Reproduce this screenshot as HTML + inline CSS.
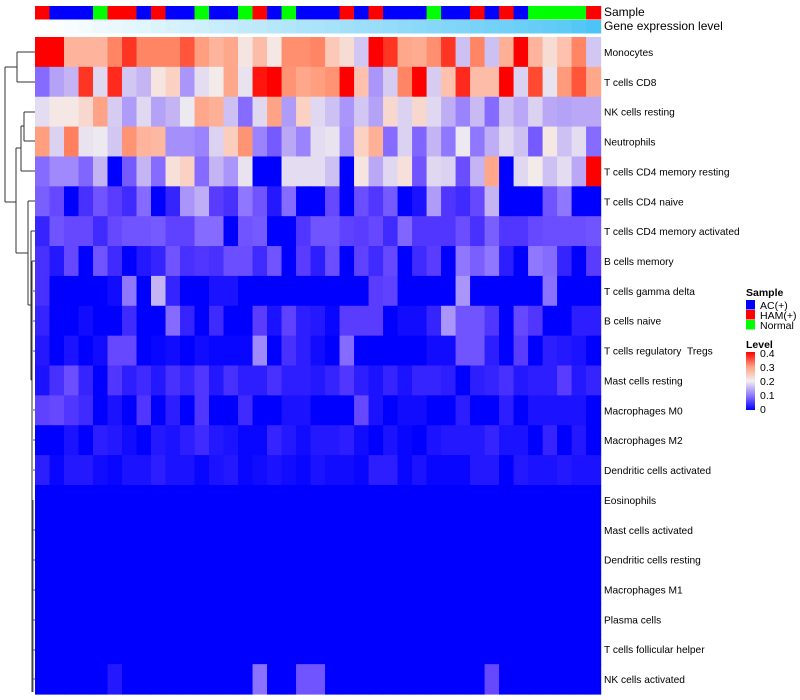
<!DOCTYPE html>
<html><head><meta charset="utf-8"><style>
body{margin:0;background:#fff;}
svg{display:block;font-family:"Liberation Sans",sans-serif;}
</style></head><body>
<svg id="chart" width="800" height="700">
<g id="dendro" stroke="#333" stroke-width="1" fill="none">
<path d="M5,67 V202 M5,67 H17 M5,202 H16 M17,52 V82 M17,52 H35 M17,82 H35 M16,148 V253 M16,148 H21 M16,253 H28 M21,126 V171 M21,126 H24 M21,171 H35 M24,112 V141 M24,112 H35 M24,141 H35 M28,201 V305 M28,201 H35 M28,305 H31 M31,231 V380 M31,231 H35 M31,380 H32 M32,261 V692 M32,261 H35"/>
<path d="M33,291 H35 M33,321 H35 M33,351 H35 M33,410 H35 M33,440 H35 M33,470 H35 M33,500 V692 M33,530 H35 M33,560 H35 M33,590 H35 M33,620 H35 M33,650 H35 M33,679 H35" stroke="#555"/>
</g>
<g id="cells"></g>
<g id="annot"></g>
<g id="labels" font-size="10.2" fill="#000"></g>
<text x="604" y="16" font-size="12">Sample</text>
<text x="604" y="30" font-size="12">Gene expression level</text>
<g id="legend" font-size="10.5">
<text x="746" y="296" font-weight="bold">Sample</text>
<text x="746" y="348" font-weight="bold">Level</text>
</g>
<defs><linearGradient id="lg" x1="0" y1="1" x2="0" y2="0">
<stop offset="0" stop-color="#0000ff"/><stop offset="0.25" stop-color="#9077ff"/><stop offset="0.5" stop-color="#f2efef"/><stop offset="0.75" stop-color="#ff9f80"/><stop offset="1" stop-color="#ff0000"/></linearGradient></defs>
<rect x="746" y="352" width="9" height="58" fill="url(#lg)"/>
</svg>
<script>
const rowNames=["Monocytes","T cells CD8","NK cells resting","Neutrophils","T cells CD4 memory resting","T cells CD4 naive","T cells CD4 memory activated","B cells memory","T cells gamma delta","B cells naive","T cells regulatory \u00a0Tregs","Mast cells resting","Macrophages M0","Macrophages M2","Dendritic cells activated","Eosinophils","Mast cells activated","Dendritic cells resting","Macrophages M1","Plasma cells","T cells follicular helper","NK cells activated"];
const sampleGroups=["H","A","A","A","N","H","H","A","H","A","A","N","A","A","N","H","A","N","A","A","A","H","A","H","A","A","A","N","A","A","H","A","H","A","N","N","N","N","H"];
const geneLevel=[0,0.02,0.05,0.07,0.1,0.12,0.15,0.17,0.2,0.22,0.25,0.27,0.3,0.32,0.35,0.37,0.4,0.42,0.45,0.47,0.5,0.52,0.55,0.57,0.6,0.62,0.65,0.67,0.7,0.72,0.75,0.77,0.8,0.82,0.85,0.87,0.9,0.95,1];
// scores: level = score*0.05
const r0=[8,8,5.5,5.5,5.5,6.5,7.5,6.5,6.5,6.5,7.2,6,5.5,5.8,4.3,5.3,4.2,6.3,6.3,6.5,5,4.5,3.3,8,7.5,5.8,5.7,6.3,7.5,3.2,6.5,3.2,5.6,8,5.5,4.5,5.2,6.5,3.3];
const r1=[1.8,2.7,3,7.5,3.6,7.6,3.3,3,4.3,4.8,2.5,3.7,4.1,5.8,3.8,7.8,8,6.2,5.8,6,6.2,8,5.2,2.5,3.4,6.5,8,3.4,5.2,7.6,5.3,5.3,8,3.5,7.3,3.8,6.1,7.2,5.8];
const r2=[3.7,4.2,4.2,4.6,5.9,3.4,2.6,3.6,2.7,3,3.9,5.8,5.6,3.2,1.8,3.6,5.9,2.6,4.8,3.6,3.2,2.5,3.3,2.7,4.6,3.5,4.6,3.6,2.9,2.2,3.1,1.8,3.2,2.8,3.5,2.8,2.7,2.8,2.8];
const r3=[6,3.5,6.6,3.8,3.9,3.3,6.2,5.5,5.4,2.4,2.4,2.2,3.5,4.9,6.2,2.2,1.5,2.8,2.2,3.7,3.8,2.4,4.8,5.6,1.8,3.5,1.7,3,2,3.9,2,2.9,3.6,3.2,1.5,4.2,3.2,3.7,1.8];
const r4=[1.8,2.3,2.3,1.7,3,0,1.5,3,1.8,4.4,4.8,1.8,3,2.5,3.8,0,0,3.7,3.7,3.7,3.2,0,4.3,2.8,3.6,4.4,1.4,3.6,3.5,1.3,3,5.8,0,3.6,4.1,3.2,3.7,2.8,8];
const r5=[1.6,1.2,0,0.8,1.4,1,0.7,1.8,0,0.6,2.5,2.9,1,0.8,2,1.4,0.4,1.8,0,0,1.2,0,1.3,0.9,1.5,0,0.3,2.6,0.9,0.7,1.2,3,0,0,0,1.4,2,0,0];
const r6=[0.6,1.4,1.2,1.2,0.7,1.2,1.4,1.4,1.5,1.1,1.1,1.8,1.8,0,1.4,1.5,0,0,0.9,1.4,1.4,1.1,1,1.2,0.7,1.7,0.9,0.9,0.9,1.3,0.8,1.6,0.9,0.9,1.2,1.3,1.3,1.3,1.4];
const r7=[0.8,0.4,1.2,0,1.4,0.7,0,0.4,0.6,1.4,0.8,0.9,0.8,1.3,1.3,0.7,1.4,0,1,0.5,1.3,0,1.1,0.7,1.2,0,0.7,1,0,2,1.6,2,0.5,0,2,1.8,0.6,0,1];
const r8=[0.8,0,0,0,0,0.2,2,0,3,0.6,0,0,0.3,0.3,0,0,0,0,0,0,0,0,0,1,1.1,0,0,0,0,2.5,0,0,0,0,0,1.9,0,0,0];
const r9=[0.6,0,0,0.2,0,0,0.7,0,0,1.8,0.6,0,0.7,0,0,1,0.3,1.1,0.5,0.4,0.1,1,1,1,0,0.2,0.2,0.6,2.5,1.4,1.4,0.9,0,1.2,0.9,0,0,0.5,0.5];
const r10=[0.4,0,0.3,0,0.2,1.2,1.2,0,0.1,0.2,0,0.2,0.1,0.1,0.1,2.3,0,0.8,0.5,0.2,0,1.8,0,0,0,0,0,0.2,0.2,1.4,1.4,0.5,0,1,0,0.5,0.4,0.3,0];
const r11=[0.3,0.8,1.3,0.6,0,0.9,0.5,0.7,0.4,0.8,0.6,0.9,0.4,0.8,0.5,0.5,0.8,0.5,0.5,0.4,0.6,0.9,0.5,0.3,0.6,0.3,0.6,0.6,0.5,0,0.5,0.6,0.8,0.4,0.5,0.5,1,0.4,0.6];
const r12=[1.1,1.2,0.9,0.7,0,0.3,0,0.9,0,0.5,0,0.9,0,0,0.7,0,0,0.3,0.3,0,0,0,1.2,0.3,0,0.2,0.2,0,0,0.5,0,0,0.5,0,0.3,0.3,0.3,0.3,0];
const r13=[0,0,0.3,0,0.5,0.4,0.2,0,0.4,0.3,0.5,0.7,0.4,0.3,0.1,0.1,0.6,0.4,0.2,0.4,0.4,0.5,0.2,0,0.3,0.1,0,0.3,0.4,0.4,0.4,0.6,0.3,0.3,0,0.6,0,0.4,0];
const r14=[0.5,0.1,0.4,0.4,0.2,0.1,0.3,0.3,0.5,0.3,0.3,0.1,0.3,0.4,0.1,0.2,0.3,0.2,0.1,0.3,0.2,0.2,0.1,0.5,0.5,0.1,0.3,0.1,0.1,0.1,0.4,0.4,0,0.4,0.3,0.3,0.4,0.3,0.3];
const r15=[0,0,0,0,0,0,0,0,0,0,0,0,0,0,0,0,0,0,0,0,0,0,0,0,0,0,0,0,0,0,0,0,0,0,0,0,0,0,0];
const r16=r15.slice(),r17=r15.slice(),r18=r15.slice(),r19=r15.slice(),r20=r15.slice();
const r21=[0,0,0,0,0,0.4,0,0,0,0,0,0,0,0,0,1.9,0,0,1.4,1.4,0,0,0,0,0,0,0,0,0,0,0,1.2,0,0,0,0,0,0,0];
const matrix=[r0,r1,r2,r3,r4,r5,r6,r7,r8,r9,r10,r11,r12,r13,r14,r15,r16,r17,r18,r19,r20,r21];
const levelTicks=[0,0.1,0.2,0.3,0.4];
const sampleLabels=["AC(+)","HAM(+)","Normal"];
const sampleKeys=["A","H","N"];
const sampleColors={A:"#0000ff",H:"#ff0000",N:"#00ff00"};

const NS="http://www.w3.org/2000/svg";
const X0=35,X1=600.6,Y0=37,Y1=694;
const nC=r0.length,nR=matrix.length;
const cw=(X1-X0)/nC,rh=(Y1-Y0)/nR;
const xPos=i=>X0+i*cw, yPos=j=>Y0+j*rh;
const stops=[[0,[0,0,255]],[1,[90,60,255]],[2,[144,119,255]],[3,[196,180,244]],[4,[242,239,239]],[5,[252,201,184]],[6,[255,159,128]],[7,[255,106,72]],[8,[255,0,0]]];
function color(s){s=Math.max(0,Math.min(8,s));let k=Math.min(7,Math.floor(s));let t=s-k;const a=stops[k][1],b=stops[k+1][1];return "rgb("+a.map((v,i)=>Math.round(v+(b[i]-v)*t)).join(",")+")";}
function el(t,a,p){const e=document.createElementNS(NS,t);for(const k in a)e.setAttribute(k,a[k]);p.appendChild(e);return e;}
const cells=document.getElementById("cells");
matrix.forEach((row,j)=>row.forEach((v,i)=>{
 const r=el("rect",{x:xPos(i),y:yPos(j),width:cw+0.6,height:rh+0.6,fill:color(v)},cells);
 
 
}));
const annot=document.getElementById("annot");
sampleGroups.forEach((g,i)=>{
 const r=el("rect",{x:xPos(i),y:6,width:cw+0.6,height:13.5,fill:sampleColors[g]},annot);
 
 
});
geneLevel.forEach((g,i)=>{
 const c=[255+(76-255)*g,255+(196-255)*g,255+(245-255)*g].map(Math.round);
 const r=el("rect",{x:xPos(i),y:20,width:cw+0.6,height:13.5,fill:"rgb("+c.join(",")+")"},annot);
 
 
});
const labels=document.getElementById("labels");
rowNames.forEach((n,j)=>{
 const t=el("text",{x:604,y:yPos(j)+rh/2+4},labels);
 t.textContent=n;
 
 
});
const legend=document.getElementById("legend");
sampleKeys.forEach((k,i)=>{
 const r=el("rect",{x:746,y:300+i*10,width:9,height:9.5,fill:sampleColors[k]},legend);
 
 
 const t=el("text",{x:760,y:309+i*10},legend);
 t.textContent=sampleLabels[i];
 
 
});
levelTicks.forEach(v=>{
 const y=410-v/0.4*56;
 const t=el("text",{x:760,y:y+3},legend);
 t.textContent=v===0?"0":String(v);
 
 
 el("line",{x1:746,x2:748,y1:y,y2:y,stroke:"#fff"},legend);
});
</script>
</body></html>
